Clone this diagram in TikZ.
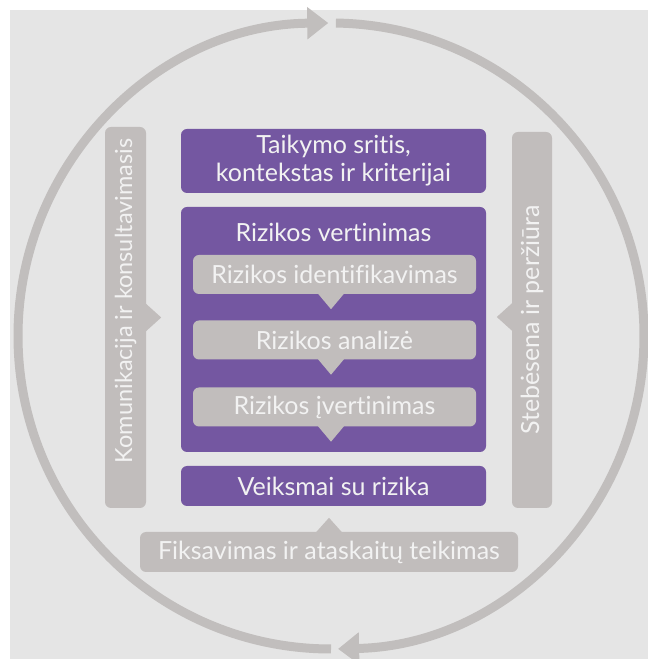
\documentclass[tikz,border=0pt]{standalone}
\usepackage{fontspec}
\setmainfont[Ligatures=NoCommon]{Lato}
\usetikzlibrary{arrows.meta,positioning,calc}
\definecolor{bgrey}{HTML}{E5E5E5}
\definecolor{ringgrey}{HTML}{C1BEBD}
\definecolor{boxgrey}{HTML}{C1BDBC}
\definecolor{rpurple}{HTML}{7457A1}

\begin{document}
\begin{tikzpicture}
[x=1pt,y=1pt,
every node/.style={text=white!95!black,font=\fontsize{25}{28}\selectfont,inner sep=0pt,align=center},
purplebox/.style={fill=rpurple,rounded corners=6pt,minimum width=305pt},
greybox/.style={fill=boxgrey,rounded corners=6pt},
ring/.style={draw=ringgrey,line width=9pt,-{Triangle[length=21pt,width=31pt]}}]
\useasboundingbox (0,0) rectangle (648,659);
\fill[white] (0,0) rectangle (648,659);
\fill[bgrey] (10,0) rectangle (648,649);
% the cycle round everything
\coordinate (c) at (331,323);
\draw[ring] ($(c)+(89.1:313)$) arc[start angle=89.1,end angle=-88.7,radius=313];
\draw[ring] ($(c)+(270:313)$) arc[start angle=270,end angle=90.5,radius=313];
% middle column
\node[purplebox,minimum height=64pt] (scope) at (333.5,498) {Taikymo sritis,\\kontekstas ir kriterijai};
\node[purplebox,minimum height=245pt] (assess) at (333.5,329.5) {};
\node (assesstitle) at ($(assess.north)+(0,-26)$) {Rizikos vertinimas};
\node[greybox,minimum width=283pt,minimum height=39pt] (ident) at (334.5,384.5) {Rizikos identifikavimas};
\node[greybox,minimum width=283pt,minimum height=39pt] (analysis) at (334.5,319) {Rizikos analizė};
\node[greybox,minimum width=283pt,minimum height=39pt] (evaluation) at (334.5,252) {Rizikos įvertinimas};
\foreach \n in {ident,analysis,evaluation}
  \fill[boxgrey] ($(\n.south -| c)+(-13,0.5)$) -- ($(\n.south -| c)+(0,-15)$) -- ($(\n.south -| c)+(13,0.5)$) -- cycle;
\node[purplebox,minimum height=40pt] (treat) at (333.5,173) {Veiksmai su rizika};
% bottom banner
\node[greybox,minimum width=378pt,minimum height=40pt] (record) at (329,107) {Fiksavimas ir ataskaitų teikimas};
\fill[boxgrey] ($(record.north)+(-13,-0.5)$) -- ($(record.north)+(0,14)$) -- ($(record.north)+(13,-0.5)$) -- cycle;
% side bars
\node[greybox,minimum width=41pt,minimum height=381pt] (comm) at (125.5,341.5) {};
\node[rotate=90,font=\fontsize{23.5}{28}\selectfont] (commtext) at (125.5,358) {Komunikacija ir konsultavimasis};
\fill[boxgrey] ($(comm.east)+(-0.5,14)$) -- ($(comm.east)+(15,0)$) -- ($(comm.east)+(-0.5,-14)$) -- cycle;
\node[greybox,minimum width=40pt,minimum height=376pt] (monitor) at (532,339) {};
\node[rotate=90] (monitortext) at (532,339) {Stebėsena ir peržiūra};
\fill[boxgrey] ($(monitor.west)+(0.5,17)$) -- ($(monitor.west)+(-15,3)$) -- ($(monitor.west)+(0.5,-11)$) -- cycle;
\end{tikzpicture}
\end{document}
